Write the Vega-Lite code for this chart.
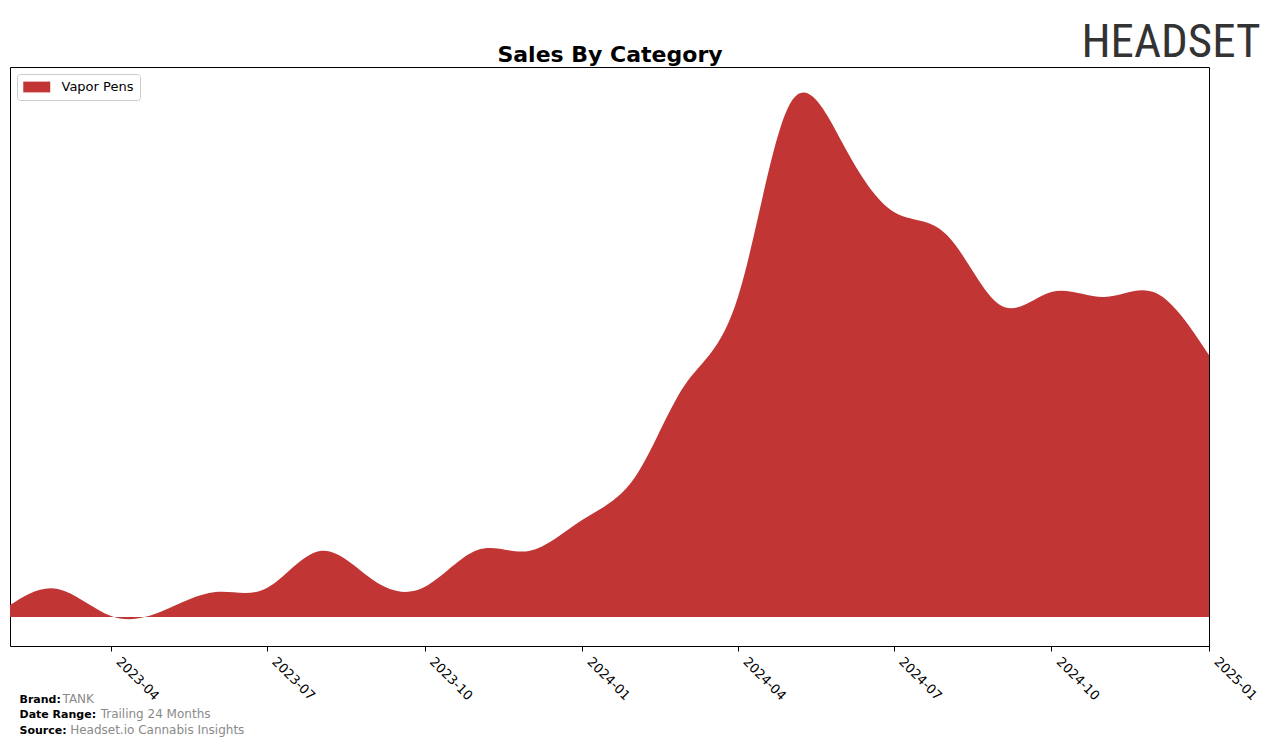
{
  "$schema": "https://vega.github.io/schema/vega-lite/v6.json",
  "width": 1199,
  "height": 579,
  "autosize": "none",
  "padding": {"left": 10, "top": 67, "right": 67, "bottom": 100},
  "background": "white",
  "config": {
    "font": "DejaVu Sans",
    "view": {"stroke": "black", "strokeWidth": 1}
  },
  "data": {
    "values": [
      {"month": "2023-02-01", "category": "Vapor Pens", "sales": 12},
      {"month": "2023-03-01", "category": "Vapor Pens", "sales": 28},
      {"month": "2023-04-01", "category": "Vapor Pens", "sales": 1},
      {"month": "2023-05-01", "category": "Vapor Pens", "sales": 6},
      {"month": "2023-06-01", "category": "Vapor Pens", "sales": 25},
      {"month": "2023-07-01", "category": "Vapor Pens", "sales": 29},
      {"month": "2023-08-01", "category": "Vapor Pens", "sales": 66},
      {"month": "2023-09-01", "category": "Vapor Pens", "sales": 37},
      {"month": "2023-10-01", "category": "Vapor Pens", "sales": 30},
      {"month": "2023-11-01", "category": "Vapor Pens", "sales": 67},
      {"month": "2023-12-01", "category": "Vapor Pens", "sales": 66},
      {"month": "2024-01-01", "category": "Vapor Pens", "sales": 97},
      {"month": "2024-02-01", "category": "Vapor Pens", "sales": 140},
      {"month": "2024-03-01", "category": "Vapor Pens", "sales": 232},
      {"month": "2024-04-01", "category": "Vapor Pens", "sales": 320},
      {"month": "2024-05-01", "category": "Vapor Pens", "sales": 512},
      {"month": "2024-06-01", "category": "Vapor Pens", "sales": 474},
      {"month": "2024-07-01", "category": "Vapor Pens", "sales": 405},
      {"month": "2024-08-01", "category": "Vapor Pens", "sales": 382},
      {"month": "2024-09-01", "category": "Vapor Pens", "sales": 312},
      {"month": "2024-10-01", "category": "Vapor Pens", "sales": 325},
      {"month": "2024-11-01", "category": "Vapor Pens", "sales": 320},
      {"month": "2024-12-01", "category": "Vapor Pens", "sales": 324},
      {"month": "2025-01-01", "category": "Vapor Pens", "sales": 262}
    ]
  },
  "layer": [
    {
      "mark": {"type": "area", "interpolate": "natural"},
      "encoding": {
        "x": {
          "field": "month",
          "type": "temporal",
          "scale": {
            "type": "utc",
            "domain": [
              {"year": 2023, "month": 2, "date": 1, "utc": true},
              {"year": 2025, "month": 1, "date": 1, "utc": true}
            ],
            "nice": false
          },
          "axis": {
            "values": [
              {"year": 2023, "month": 4, "date": 1, "utc": true},
              {"year": 2023, "month": 7, "date": 1, "utc": true},
              {"year": 2023, "month": 10, "date": 1, "utc": true},
              {"year": 2024, "month": 1, "date": 1, "utc": true},
              {"year": 2024, "month": 4, "date": 1, "utc": true},
              {"year": 2024, "month": 7, "date": 1, "utc": true},
              {"year": 2024, "month": 10, "date": 1, "utc": true},
              {"year": 2025, "month": 1, "date": 1, "utc": true}
            ],
            "format": "%Y-%m",
            "labelAngle": 45,
            "labelAlign": "left",
            "labelBaseline": "top",
            "labelFontSize": 13,
            "labelColor": "black",
            "labelPadding": 4,
            "labelOffset": 11,
            "labelFlush": false,
            "labelOverlap": false,
            "labelBound": false,
            "tickColor": "black",
            "tickSize": 5,
            "tickWidth": 1,
            "domain": false,
            "grid": false,
            "title": ["Brand:", "Date Range:", "Source:"],
            "titleFontSize": 11,
            "titleFontWeight": "bold",
            "titleColor": "black",
            "titleAlign": "left",
            "titleAngle": 0,
            "titleBaseline": "alphabetic",
            "titleX": 9,
            "titleY": 56,
            "titleLineHeight": 15.5
          }
        },
        "y": {
          "field": "sales",
          "type": "quantitative",
          "scale": {"domain": [-29, 550], "nice": false, "zero": false},
          "axis": {
            "labels": false,
            "ticks": false,
            "domain": false,
            "grid": false,
            "title": ["TANK", "\u200d\u00a0\u00a0\u00a0\u00a0\u00a0\u00a0\u00a0\u00a0\u00a0\u00a0Trailing 24 Months", "\u200d\u00a0\u00a0Headset.io Cannabis Insights"],
            "titleAngle": 0,
            "titleAlign": "left",
            "titleBaseline": "alphabetic",
            "titleX": 52,
            "titleY": 635,
            "titleFontSize": 12,
            "titleFontWeight": "normal",
            "titleColor": "#8a8a8a",
            "titleLineHeight": 15.5
          }
        },
        "color": {
          "field": "category",
          "type": "nominal",
          "scale": {"range": ["#C13535"]},
          "legend": {
            "title": null,
            "orient": "top-left",
            "offset": 7,
            "padding": 6,
            "strokeColor": "#cccccc",
            "fillColor": "white",
            "cornerRadius": 3,
            "symbolType": "M-1,-0.8H3V0.8H-1Z",
            "symbolSize": 182,
            "symbolStrokeWidth": 0,
            "symbolOpacity": 1,
            "labelFontSize": 13,
            "labelColor": "black",
            "labelOffset": 24.5
          }
        }
      }
    },
    {
      "mark": {"type": "line", "opacity": 0},
      "encoding": {
        "x": {
          "field": "month",
          "type": "temporal",
          "axis": {
            "orient": "top",
            "labels": false,
            "ticks": false,
            "domain": false,
            "grid": false,
            "title": "Sales By Category",
            "titleAngle": 0,
            "titleAlign": "center",
            "titleAnchor": null,
            "titleBaseline": "alphabetic",
            "titleX": 599.5,
            "titleY": -6,
            "titleFontSize": 22,
            "titleFontWeight": "bold",
            "titleColor": "black"
          }
        },
        "y": {
          "field": "sales",
          "type": "quantitative",
          "axis": {
            "orient": "right",
            "labels": false,
            "ticks": false,
            "domain": false,
            "grid": false,
            "title": "HEADSET",
            "titleAngle": 0,
            "titleAlign": "right",
            "titleBaseline": "alphabetic",
            "titleX": 51,
            "titleY": -11,
            "titleFont": "Liberation Sans Narrow, Roboto Condensed, Roboto",
            "titleFontSize": 47,
            "titleFontWeight": "normal",
            "titleColor": "#333333"
          }
        }
      }
    }
  ],
  "resolve": {"axis": {"x": "independent", "y": "independent"}}
}
